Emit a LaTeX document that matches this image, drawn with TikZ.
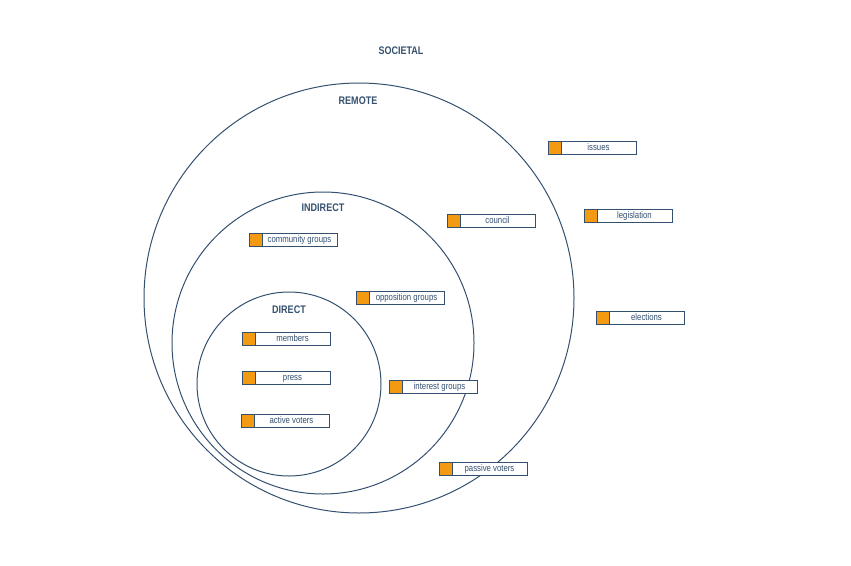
\documentclass[tikz,border=0pt]{standalone}
\usepackage{fontspec}
\setmainfont{Liberation Sans}[FakeStretch=0.82]
\usepackage{tikz}
\definecolor{ringblue}{HTML}{34506F}
\definecolor{tagorange}{HTML}{F39A12}
\newcommand\tagtxt[1]{\hspace*{13pt}\makebox[75pt]{#1}}

\begin{document}
\begin{tikzpicture}[x=1pt,y=-1pt,every node/.style={text=ringblue},ring/.style={draw=ringblue,line width=1pt},level/.style={font=\bfseries\fontsize{11}{13}\selectfont},tag/.style={draw=ringblue,fill=white,line width=0.9pt,minimum width=88pt,minimum height=13pt,inner sep=0pt,text height=6pt,text depth=1pt,font=\fontsize{9.5}{11}\selectfont,path picture={\fill[tagorange] (path picture bounding box.north west) rectangle ([xshift=13pt]path picture bounding box.south west);\draw[ringblue,line width=0.9pt] ([xshift=13pt]path picture bounding box.north west) -- ([xshift=13pt]path picture bounding box.south west);}}]
\useasboundingbox (0,0) rectangle (851,565);
% rings
\draw[ring] (359,298) circle (215);
\draw[ring] (323,343) circle (151);
\draw[ring] (289,384) circle (92);
% ring titles
\node[level] (soc) at (401,51) {SOCIETAL};
\node[level] (rem) at (358,101) {REMOTE};
\node[level] (ind) at (323,208) {INDIRECT};
\node[level] (dir) at (289,310) {DIRECT};
% tags
\node[tag] (issues) at (592,147.5) {\tagtxt{issues}};
\node[tag] (legis) at (628,215.5) {\tagtxt{legislation}};
\node[tag] (council) at (491,221) {\tagtxt{council}};
\node[tag] (commun) at (293,240) {\tagtxt{community groups}};
\node[tag] (oppos) at (400,297.5) {\tagtxt{opposition groups}};
\node[tag] (elect) at (640,318) {\tagtxt{elections}};
\node[tag] (members) at (286,339) {\tagtxt{members}};
\node[tag] (press) at (286,378) {\tagtxt{press}};
\node[tag] (interest) at (433,386.5) {\tagtxt{interest groups}};
\node[tag] (active) at (285,421) {\tagtxt{active voters}};
\node[tag] (passive) at (483,468.5) {\tagtxt{passive voters}};
\end{tikzpicture}
\end{document}
